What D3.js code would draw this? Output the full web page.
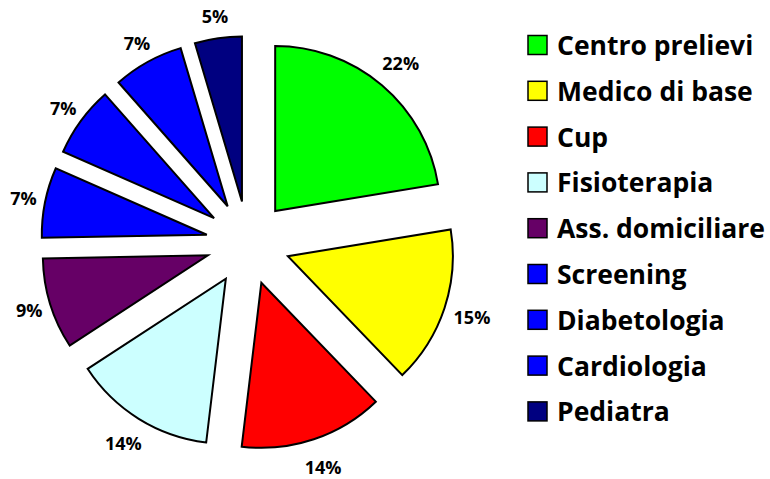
<!DOCTYPE html>
<html>
<head>
<meta charset="utf-8">
<script src="https://cdn.jsdelivr.net/npm/d3@7"></script>
<style>
  body { margin: 0; background: #fff; }
  svg text { font-family: "Open Sans", Lato, sans-serif; font-weight: bold; fill: #000; }
</style>
</head>
<body>
<div id="chart"></div>
<script>
// data (labels are rounded percentages)
var categories = ["Centro prelievi", "Medico di base", "Cup", "Fisioterapia",
  "Ass. domiciliare", "Screening", "Diabetologia", "Cardiologia", "Pediatra"];
var values = [22.4, 15.4, 14.1, 13.9, 8.9, 6.9, 6.9, 6.9, 4.6];
var colors = ["#00ff00", "#ffff00", "#ff0000", "#ccffff", "#660066",
  "#0000ff", "#0000ff", "#0000ff", "#000080"];

var width = 770, height = 479;
var cx = 248, cy = 243, radius = 165, explode = 42;

var svg = d3.select("#chart").append("svg")
    .attr("width", width)
    .attr("height", height);

var pie = d3.pie().sort(null).value(function(d) { return d; });
var arcs = pie(values);
var total = d3.sum(values);

var arc = d3.arc().innerRadius(0).outerRadius(radius);

var g = svg.append("g")
    .attr("transform", "translate(" + cx + "," + cy + ")");

function mid(d) { return (d.startAngle + d.endAngle) / 2; }
// narrow labels sit a bit closer in
function labelR(d) { return d.value >= 10 ? 236 : 229; }

g.selectAll("path.slice")
    .data(arcs)
  .enter().append("path")
    .attr("class", "slice")
    .attr("d", arc)
    .attr("transform", function(d) {
      var a = mid(d);
      return "translate(" + (Math.sin(a) * explode) + "," + (-Math.cos(a) * explode) + ")";
    })
    .attr("fill", function(d, i) { return colors[i]; })
    .attr("stroke", "#000")
    .attr("stroke-width", 2)
    .attr("stroke-linejoin", "miter");

// percentage labels
g.selectAll("text.pct")
    .data(arcs)
  .enter().append("text")
    .attr("class", "pct")
    .attr("x", function(d) { return Math.sin(mid(d)) * labelR(d); })
    .attr("y", function(d) { return -Math.cos(mid(d)) * labelR(d); })
    .attr("text-anchor", "middle")
    .attr("dominant-baseline", "central")
    .style("font-size", "18px")
    .text(function(d) { return Math.round(d.value / total * 100) + "%"; });

// legend
var legend = svg.append("g")
    .attr("transform", "translate(528,45)");

var rowH = 45.8;
var rows = legend.selectAll("g.row")
    .data(categories)
  .enter().append("g")
    .attr("class", "row")
    .attr("transform", function(d, i) { return "translate(0," + (i * rowH) + ")"; });

rows.append("rect")
    .attr("x", 0)
    .attr("y", -9.5)
    .attr("width", 19)
    .attr("height", 19)
    .attr("fill", function(d, i) { return colors[i]; })
    .attr("stroke", "#000")
    .attr("stroke-width", 1.5);

rows.append("text")
    .attr("x", 29)
    .attr("y", 0)
    .attr("dominant-baseline", "central")
    .style("font-size", "26.5px")
    .text(function(d) { return d; });
</script>
</body>
</html>
